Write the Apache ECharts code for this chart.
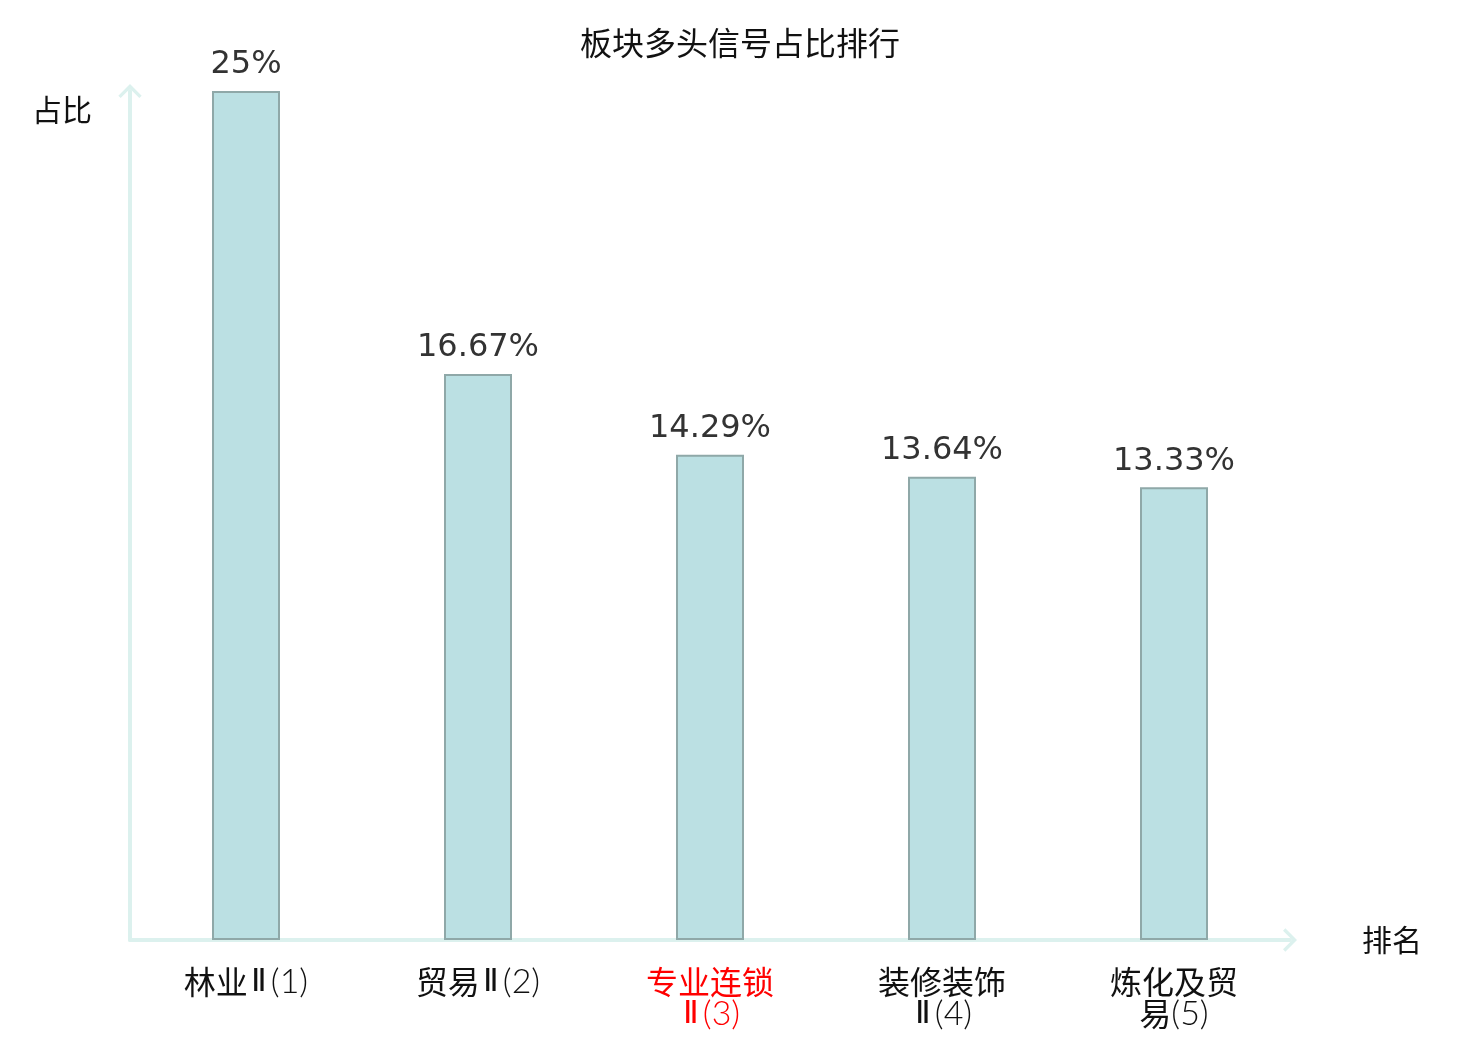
<!DOCTYPE html>
<html>
<head>
<meta charset="utf-8">
<script src="https://cdn.jsdelivr.net/npm/echarts@6/dist/echarts.min.js"></script>
<style>html,body{margin:0;padding:0;background:#fff;}#c{width:1480px;height:1040px;}</style>
</head>
<body>
<div id="c"></div>
<script>
const titleText = '板块多头信号占比排行';
const categories = ['林业Ⅱ(1)', '贸易Ⅱ(2)', '专业连锁Ⅱ(3)', '装修装饰Ⅱ(4)', '炼化及贸易(5)'];
const highlightIndex = 2;
const values = [25, 16.67, 14.29, 13.64, 13.33];
const valueLabels = ['25%', '16.67%', '14.29%', '13.64%', '13.33%'];

const charType = ch => /[\u4e00-\u9fff]/.test(ch) ? 'c' : (ch === 'Ⅱ' ? 'n' : 'l');
// wrap after 4 CJK characters, mark character runs as rich text
function richLabel(s, idx) {
  const suffix = idx === highlightIndex ? 'R' : '';
  let lines = [];
  if (s.length > 6) {
    for (let i = 0; i < s.length; i += 4) lines.push(s.slice(i, i + 4));
  } else {
    lines = [s];
  }
  return lines.map(line => {
    let out = '', cur = '', curType = null;
    for (const ch of line) {
      const t = charType(ch);
      if (t !== curType && cur) { out += '{' + curType + suffix + '|' + cur + '}'; cur = ''; }
      curType = t; cur += ch;
    }
    if (cur) out += '{' + curType + suffix + '|' + cur + '}';
    return out;
  }).join('\n');
}

const chart = echarts.init(document.getElementById('c'));
const axisColor = '#dcf1ee';
const arrowUp = 'path://M0,10 L10,0 L20,10 L18,12 L10,4 L2,12 Z';
const cjkStyle = { fontSize: 32, lineHeight: 32, fontFamily: 'Noto Sans CJK SC', color: '#111' };
const latStyle = { fontSize: 34, lineHeight: 32, fontFamily: 'Lato', fontWeight: 300, color: '#111' };
const numStyle = { fontSize: 32, lineHeight: 32, fontFamily: 'Noto Sans', fontWeight: 300, color: '#111', padding: [0, 4, 0, 3] };
const red = s => Object.assign({}, s, { color: '#ff0000' });
chart.setOption({
  animation: false,
  backgroundColor: '#fff',
  title: {
    text: titleText,
    left: 'center',
    top: 22,
    textStyle: { fontSize: 32, fontWeight: 'normal', color: '#111', fontFamily: 'Noto Sans CJK SC' }
  },
  grid: { left: 130, right: 190, top: 91, bottom: 100, containLabel: false },
  xAxis: {
    type: 'category',
    data: categories,
    name: '排名',
    nameLocation: 'end',
    nameGap: 72,
    nameTextStyle: { fontSize: 30, color: '#111', fontFamily: 'Noto Sans CJK SC' },
    axisLine: { show: true, symbol: ['none', arrowUp], symbolSize: [24, 14], lineStyle: { color: axisColor, width: 4 } },
    axisTick: { show: false },
    axisLabel: {
      interval: 0, fontSize: 32, lineHeight: 32, margin: 26, color: '#111',
      formatter: (v, i) => richLabel(v, i),
      rich: {
        c: cjkStyle, l: latStyle, n: numStyle,
        cR: red(cjkStyle), lR: red(latStyle), nR: red(numStyle)
      }
    }
  },
  yAxis: {
    type: 'value',
    min: 0,
    max: 25,
    name: '占比',
    nameLocation: 'end',
    nameGap: -19,
    nameTextStyle: { fontSize: 30, color: '#111', align: 'right', verticalAlign: 'middle', padding: [0, 38, 0, 0], fontFamily: 'Noto Sans CJK SC' },
    axisLine: { show: true, symbol: ['none', arrowUp], symbolSize: [24, 14], lineStyle: { color: axisColor, width: 4 } },
    axisTick: { show: false },
    axisLabel: { show: false },
    splitLine: { show: false }
  },
  series: [{
    type: 'bar',
    data: values,
    barWidth: 68,
    itemStyle: { color: '#bbe0e3', borderColor: '#8fa8a8', borderWidth: 2 },
    label: {
      show: true,
      position: 'top',
      distance: 10,
      fontSize: 32,
      color: '#333',
      fontFamily: 'DejaVu Sans',
      formatter: p => valueLabels[p.dataIndex]
    }
  }]
});
</script>
</body>
</html>
